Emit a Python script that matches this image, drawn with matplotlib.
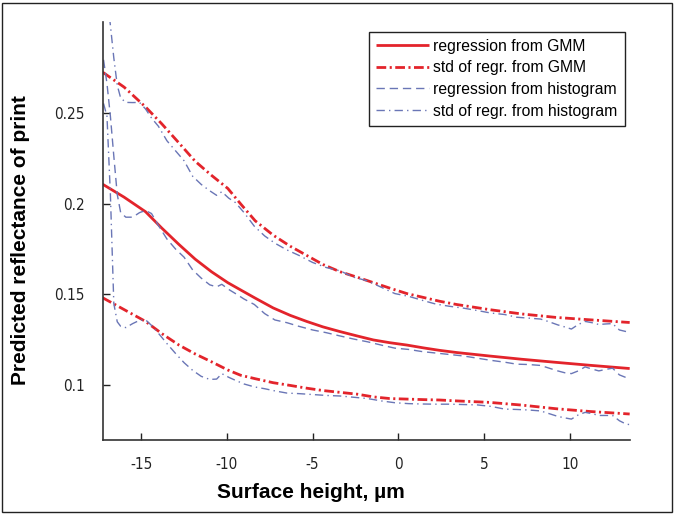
import matplotlib
matplotlib.use("Agg")
import matplotlib.pyplot as plt
from matplotlib.patches import Rectangle

# ---------------- data ----------------
x_gmm = [-17.25, -16, -14.75, -13.8, -12.8, -11.85, -10.9, -9.95, -9.2, -8.35, -7.3,
         -6.3, -5.35, -4.4, -3.4, -2.4, -1.45, -0.5, 0.5, 1.5, 2.4, 3.4, 5.3, 7.2,
         9.2, 11.15, 13.5]
gmm_reg = [0.2106, 0.2035, 0.1955, 0.1865, 0.1775, 0.1694, 0.1625, 0.1565, 0.1525,
           0.148, 0.1426, 0.1385, 0.1352, 0.1322, 0.1296, 0.1272, 0.125, 0.1235,
           0.1222, 0.1206, 0.1193, 0.1181, 0.1162, 0.1144, 0.1127, 0.1111, 0.1093]
gmm_upper = [0.2722, 0.264, 0.2531, 0.2438, 0.2333, 0.2232, 0.2155, 0.2083, 0.1998,
             0.1905, 0.1826, 0.1765, 0.1715, 0.1665, 0.1625, 0.1595, 0.1565, 0.1535,
             0.1505, 0.1483, 0.1463, 0.1445, 0.1417, 0.1393, 0.1374, 0.1361, 0.1346]
gmm_lower = [0.1482, 0.1417, 0.1352, 0.1285, 0.1222, 0.1173, 0.113, 0.1085, 0.1056,
             0.1037, 0.1015, 0.1, 0.0985, 0.0972, 0.0962, 0.0952, 0.0937, 0.0928,
             0.0925, 0.0922, 0.092, 0.0915, 0.0907, 0.0892, 0.0872, 0.0857, 0.0843]

x_hist = [-17.2, -17.0, -16.8, -16.6, -16.4, -16.2, -15.9, -15.5, -15.1, -14.75, -14.4,
          -14.0, -13.5, -13.0, -12.5, -12.0, -11.5, -11.0, -10.6, -10.3, -9.9, -9.5,
          -9.0, -8.4, -7.8, -7.2, -6.5, -5.8, -5.0, -4.2, -3.4, -2.6, -1.8, -1.0, -0.2,
          0.6, 1.4, 2.2, 3.0, 3.8, 4.6, 5.4, 6.2, 6.9, 7.6, 8.3, 8.8, 9.3, 9.7, 10.1,
          10.5, 10.9, 11.3, 11.7, 12.1, 12.5, 12.9, 13.3, 13.5]
hist_reg = [0.279, 0.266, 0.248, 0.226, 0.205, 0.195, 0.1925, 0.1925, 0.195, 0.1962,
            0.1945, 0.188, 0.1805, 0.175, 0.1705, 0.1635, 0.159, 0.1553, 0.1542, 0.1556,
            0.1528, 0.1505, 0.1475, 0.1445, 0.1395, 0.136, 0.1345, 0.1325, 0.1305,
            0.129, 0.1272, 0.1255, 0.124, 0.1222, 0.1205, 0.1198, 0.1186, 0.1178,
            0.117, 0.1162, 0.115, 0.1138, 0.1128, 0.1117, 0.1115, 0.111, 0.1095,
            0.108, 0.107, 0.1065, 0.108, 0.1102, 0.109, 0.108, 0.1088, 0.1095, 0.1058,
            0.1043, 0.104]
hist_upper = [0.33, 0.315, 0.298, 0.28, 0.265, 0.258, 0.2556, 0.2555, 0.2556, 0.252,
              0.247, 0.2425, 0.2345, 0.229, 0.2235, 0.215, 0.2105, 0.207, 0.2045,
              0.2065, 0.203, 0.2005, 0.195, 0.1875, 0.1822, 0.1782, 0.1745, 0.1715,
              0.1676, 0.1648, 0.163, 0.1595, 0.1575, 0.154, 0.1505, 0.149, 0.1468,
              0.1447, 0.1435, 0.1425, 0.1412, 0.1398, 0.139, 0.1375, 0.137, 0.1365,
              0.135, 0.1333, 0.1322, 0.131, 0.1335, 0.1352, 0.1345, 0.1335, 0.1338,
              0.134, 0.1305, 0.1296, 0.1295]
hist_lower = [0.255, 0.248, 0.205, 0.145, 0.135, 0.1325, 0.1318, 0.134, 0.1358, 0.1361,
              0.133, 0.1287, 0.123, 0.1176, 0.1125, 0.1083, 0.105, 0.1033, 0.1035,
              0.1065, 0.1045, 0.1028, 0.1008, 0.0992, 0.0982, 0.097, 0.0958, 0.0955,
              0.095, 0.0945, 0.0942, 0.0935, 0.0928, 0.0915, 0.0905, 0.09, 0.0898,
              0.0897, 0.0897, 0.0895, 0.0893, 0.0885, 0.087, 0.0868, 0.0865, 0.086,
              0.0845, 0.083, 0.0822, 0.0815, 0.0838, 0.0852, 0.0845, 0.0835, 0.0835,
              0.0835, 0.0806, 0.0787, 0.0785]

x_ticks = [-15, -10, -5, 0, 5, 10]
y_ticks = [0.1, 0.15, 0.2, 0.25]
y_tick_labels = ["0.1", "0.15", "0.2", "0.25"]
legend_labels = ["regression from GMM", "std of regr. from GMM",
                 "regression from histogram", "std of regr. from histogram"]

# ---------------- style ----------------
plt.rcParams['lines.scale_dashes'] = False
tickfam = ['DejaVu Sans']
legfam = ['Liberation Sans', 'DejaVu Sans']
boldfam = ['Liberation Sans', 'DejaVu Sans']
RED = '#e3242b'
BLUE = '#6a76b6'

fig = plt.figure(figsize=(6.8, 5.15), dpi=100)
ax = fig.add_axes([0.151, 0.1456, 0.775, 0.8124])

l1, = ax.plot(x_gmm, gmm_reg, color=RED, lw=2.0, solid_capstyle='butt')
l2, = ax.plot(x_gmm, gmm_upper, color=RED, lw=2.0, dashes=(7, 2.5, 1.5, 2.5))
ax.plot(x_gmm, gmm_lower, color=RED, lw=2.0, dashes=(7, 2.5, 1.5, 2.5))
l3, = ax.plot(x_hist, hist_reg, color=BLUE, lw=1.0, dashes=(6, 3.5))
l4, = ax.plot(x_hist, hist_upper, color=BLUE, lw=1.0, dashes=(6, 3, 1, 3))
ax.plot(x_hist, hist_lower, color=BLUE, lw=1.0, dashes=(6, 3, 1, 3))

ax.set_xlim(-17.25, 13.5)
ax.set_ylim(0.07, 0.30)
ax.set_xticks(x_ticks)
ax.set_xticklabels([str(t) for t in x_ticks], family=tickfam, fontstretch='condensed',
                   fontsize=11)
ax.set_yticks(y_ticks)
ax.set_yticklabels(y_tick_labels, family=tickfam, fontstretch='condensed', fontsize=11)
ax.tick_params(direction='in', length=5, width=1.0, colors='#222222')
ax.tick_params(axis='y', pad=13)
ax.tick_params(axis='x', pad=12)
for s in ['top', 'right']:
    ax.spines[s].set_visible(False)
for s in ['left', 'bottom']:
    ax.spines[s].set_linewidth(1.2)
    ax.spines[s].set_color('#333333')

leg = ax.legend([l1, l2, l3, l4], legend_labels, loc='upper right',
                bbox_to_anchor=(0.9905, 0.976), borderaxespad=0,
                fancybox=False, framealpha=1, edgecolor='#222222',
                prop={'family': legfam, 'size': 11.3}, handlelength=3.4,
                handletextpad=0.25, labelspacing=0.42, borderpad=0.45)
leg.get_frame().set_linewidth(1.0)

fig.text(0.457, 0.043, "Surface height, \u00b5m", ha='center', va='center',
         fontsize=15, fontweight='bold', family=boldfam)
fig.text(0.03, 0.534, "Predicted reflectance of print", ha='center', va='center',
         rotation=90, fontsize=15, fontweight='bold', family=boldfam)

fig.patches.append(Rectangle((2 / 680, 3 / 515), 670 / 680, 509 / 515,
                             transform=fig.transFigure, fill=False,
                             edgecolor='#222222', lw=1.0))

fig.savefig('out.png', dpi=100)
